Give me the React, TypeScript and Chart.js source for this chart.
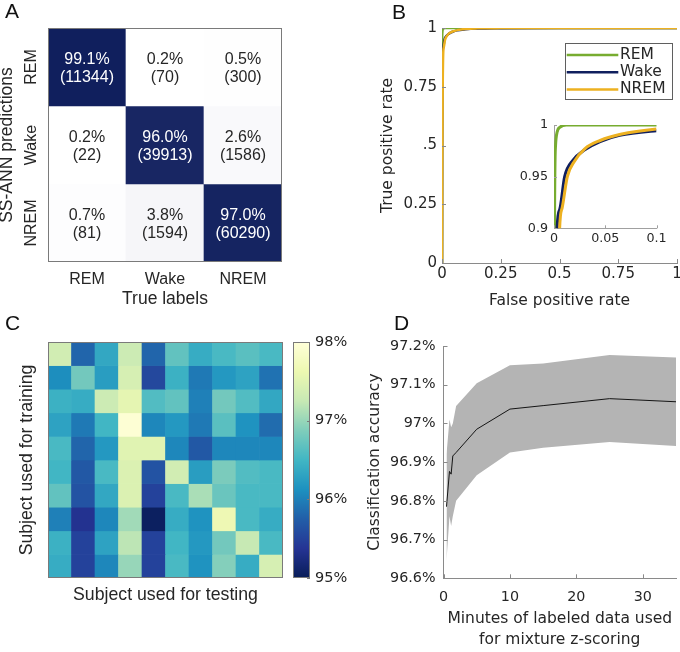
import React, { useEffect, useRef } from 'react';
import { Chart, registerables } from 'chart.js';

Chart.register(...registerables);

const SANS = "'Liberation Sans', Arial, sans-serif";
const WIDE = "'DejaVu Sans', Verdana, sans-serif";
const INK = '#262626';
const AXIS = '#8a8a8a';
const FRAME = '#7a7a7a';

// ---------- Panel A: confusion matrix ----------
const confStates = ['REM', 'Wake', 'NREM'];
const confPct = [
  [99.1, 0.2, 0.5],
  [0.2, 96.0, 2.6],
  [0.7, 3.8, 97.0],
];
const confCount = [
  [11344, 70, 300],
  [22, 39913, 1586],
  [81, 1594, 60290],
];

// ---------- Panel B: ROC ----------
const rocTicks = [0, 0.25, 0.5, 0.75, 1];
const rocXTickLabels = ['0', '0.25', '0.5', '0.75', '1'];
const rocYTickLabels = ['0', '0.25', '.5', '0.75', '1'];
const rocClasses = ['REM', 'Wake', 'NREM'];
const rocColors = ['#77ac30', '#101f5e', '#edb120'];
const remFpr = [0, 0.0002, 0.0005, 0.0015, 0.003, 0.006, 0.012, 0.05, 1];
const remTpr = [0, 0.6, 0.9, 0.98, 0.993, 0.998, 1, 1, 1];
const wakeFpr = [0, 0.0005, 0.0015, 0.003, 0.0055, 0.0104, 0.0186, 0.03, 0.045, 0.064, 0.1, 0.15, 0.25, 0.5, 1];
const wakeTpr = [0, 0.45, 0.75, 0.9, 0.918, 0.95, 0.966, 0.976, 0.984, 0.99, 0.9945, 0.9975, 0.9992, 1, 1];
const nremFpr = [0, 0.001, 0.003, 0.0055, 0.008, 0.013, 0.02, 0.03, 0.045, 0.065, 0.1, 0.15, 0.25, 0.5, 1];
const nremTpr = [0, 0.4, 0.75, 0.9, 0.92, 0.95, 0.965, 0.977, 0.985, 0.991, 0.9961, 0.9985, 0.9995, 1, 1];
const insetXTicks = [0, 0.05, 0.1];
const insetXTickLabels = ['0', '0.05', '0.1'];
const insetYTicks = [0.9, 0.95, 1];
const insetYTickLabels = ['0.9', '0.95', '1'];

// ---------- Panel C: cross-subject accuracy (%) ----------
const heatSubjects = ['1', '2', '3', '4', '5', '6', '7', '8', '9', '10'];
const heatAcc = [
  [97.35, 95.8, 96.35, 97.3, 95.8, 96.7, 96.4, 96.55, 96.65, 96.55],
  [96.1, 96.8, 96.25, 97.4, 95.55, 96.45, 95.95, 96.2, 96.3, 95.9],
  [96.45, 96.4, 97.3, 97.55, 96.6, 96.7, 96.0, 96.8, 96.6, 96.35],
  [96.3, 95.95, 96.5, 97.95, 96.05, 96.2, 95.95, 96.65, 96.15, 95.85],
  [96.55, 95.8, 96.2, 97.5, 97.5, 96.05, 95.7, 96.05, 96.05, 96.05],
  [96.5, 95.7, 96.55, 97.45, 95.65, 97.35, 96.25, 96.85, 96.6, 96.55],
  [96.7, 95.65, 96.35, 97.45, 95.5, 96.55, 97.1, 96.75, 96.55, 96.55],
  [96.0, 95.35, 96.05, 97.05, 95.05, 96.4, 96.15, 97.65, 96.55, 96.4],
  [96.45, 95.5, 96.3, 97.2, 95.5, 96.5, 96.2, 96.8, 97.25, 96.55],
  [96.4, 95.5, 96.05, 97.0, 95.5, 96.55, 96.15, 96.9, 96.4, 97.4],
];
const cbTicks = [95, 96, 97, 98];
const cbLabels = ['95%', '96%', '97%', '98%'];
const ylgnbu = ['#081d58', '#253494', '#225ea8', '#1d91c0', '#41b6c4', '#7fcdbb', '#c7e9b4', '#edf8b1', '#ffffd9'];

// ---------- Panel D: accuracy vs minutes ----------
const dMinutes = [0.45, 0.9, 1.15, 1.4, 1.9, 5, 10, 15, 25, 35];
const dMean = [96.785, 96.876, 96.869, 96.916, 96.925, 96.985, 97.037, 97.046, 97.064, 97.056];
const dUpper = [96.92, 97.01, 96.99, 97.0, 97.045, 97.104, 97.15, 97.155, 97.177, 97.17];
const dLower = [96.645, 96.76, 96.735, 96.76, 96.8, 96.866, 96.925, 96.937, 96.952, 96.942];
const dXTicks = [0, 10, 20, 30];
const dYTicks = [96.6, 96.7, 96.8, 96.9, 97, 97.1, 97.2];

// ---------- helpers ----------
function hexToRgb(h: string) {
  const n = parseInt(h.slice(1), 16);
  return [(n >> 16) & 255, (n >> 8) & 255, n & 255];
}
function heatColor(v: number) {
  const t = Math.min(1, Math.max(0, (v - cbTicks[0]) / (cbTicks[cbTicks.length - 1] - cbTicks[0])));
  const pos = t * (ylgnbu.length - 1);
  const i = Math.min(ylgnbu.length - 2, Math.floor(pos));
  const f = pos - i;
  const a = hexToRgb(ylgnbu[i]);
  const b = hexToRgb(ylgnbu[i + 1]);
  const c = a.map((x, k) => Math.round(x + (b[k] - x) * f));
  return `rgb(${c[0]},${c[1]},${c[2]})`;
}
function matrixColor(p: number) {
  const navy = [14, 29, 92];
  const f = p / 100;
  const c = navy.map((x) => Math.round(255 + (x - 255) * f));
  return `rgb(${c[0]},${c[1]},${c[2]})`;
}
const fixBox = (w?: number, h?: number) => (s: any) => {
  if (w !== undefined) s.width = w;
  if (h !== undefined) s.height = h;
  s.paddingLeft = 0;
  s.paddingRight = 0;
  s.paddingTop = 0;
  s.paddingBottom = 0;
};
const setTicks = (vals: number[]) => (s: any) => {
  s.ticks = vals.map((value) => ({ value }));
};
const base = {
  responsive: false,
  maintainAspectRatio: false,
  animation: false,
  devicePixelRatio: 1,
  events: [],
};
const noLegend = { legend: { display: false }, tooltip: { enabled: false } };
const noGrid = { display: false, drawTicks: false };

// ---------- plugins ----------
const inTicks = {
  id: 'inTicks',
  afterDatasetsDraw(chart: any, _a: any, opts: any) {
    if (!opts || !opts.axes) return;
    const { ctx, chartArea: ca } = chart;
    ctx.save();
    ctx.strokeStyle = opts.color || AXIS;
    ctx.lineWidth = 1;
    for (const id of opts.axes) {
      const s = chart.scales[id];
      if (!s) continue;
      s.ticks.forEach((_t: any, i: number) => {
        const p = Math.round(s.getPixelForTick(i)) + 0.5;
        ctx.beginPath();
        if (s.isHorizontal()) {
          const y = s.position === 'top' ? ca.top : ca.bottom;
          const d = s.position === 'top' ? 1 : -1;
          ctx.moveTo(p, y);
          ctx.lineTo(p, y + d * opts.len);
        } else {
          const x = s.position === 'right' ? ca.right : ca.left;
          const d = s.position === 'right' ? -1 : 1;
          ctx.moveTo(x, p);
          ctx.lineTo(x + d * opts.len, p);
        }
        ctx.stroke();
      });
    }
    ctx.restore();
  },
};

const frame = {
  id: 'frame',
  afterDatasetsDraw(chart: any, _a: any, opts: any) {
    if (!opts || !opts.color) return;
    const { ctx, chartArea: a } = chart;
    ctx.save();
    ctx.strokeStyle = opts.color;
    ctx.lineWidth = 1;
    ctx.strokeRect(a.left + 0.5, a.top + 0.5, a.right - a.left - 1, a.bottom - a.top - 1);
    ctx.restore();
  },
};

const matrixText = {
  id: 'matrixText',
  afterDatasetsDraw(chart: any) {
    const { ctx, scales, chartArea } = chart;
    const x = scales.x;
    const y = scales.y;
    ctx.save();
    ctx.font = `16px ${SANS}`;
    ctx.textAlign = 'center';
    ctx.textBaseline = 'middle';
    confPct.forEach((row, r) =>
      row.forEach((p, c) => {
        const cx = x.getPixelForValue(c);
        const cy = y.getPixelForValue(r + 0.5);
        ctx.fillStyle = p > 50 ? '#ffffff' : INK;
        ctx.fillText(`${p.toFixed(1)}%`, cx, cy - 7.3);
        ctx.fillText(`(${confCount[r][c]})`, cx, cy + 10.6);
      })
    );
    ctx.fillStyle = INK;
    confStates.forEach((s, r) => {
      const cy = y.getPixelForValue(r + 0.5);
      ctx.save();
      ctx.translate(chartArea.left - 16.5, cy);
      ctx.rotate(-Math.PI / 2);
      ctx.fillText(s, 0, 0);
      ctx.restore();
    });
    ctx.restore();
  },
};

const rocLegend = {
  id: 'rocLegend',
  afterDatasetsDraw(chart: any) {
    const { ctx, chartArea: a } = chart;
    const bx = a.left + 123;
    const by = a.top + 15.3;
    const bw = 106.7;
    const bh = 56;
    ctx.save();
    ctx.fillStyle = '#ffffff';
    ctx.fillRect(bx, by, bw, bh);
    ctx.strokeStyle = '#5f5f5f';
    ctx.lineWidth = 1;
    ctx.strokeRect(Math.round(bx) + 0.5, Math.round(by) + 0.5, Math.round(bw), Math.round(bh));
    ctx.font = `15.5px ${WIDE}`;
    ctx.textBaseline = 'middle';
    ctx.textAlign = 'left';
    rocClasses.forEach((name, i) => {
      const ly = by + 11.7 + i * 17.2;
      ctx.strokeStyle = rocColors[i];
      ctx.lineWidth = 2.5;
      ctx.beginPath();
      ctx.moveTo(bx + 1.7, ly);
      ctx.lineTo(bx + 53.3, ly);
      ctx.stroke();
      ctx.fillStyle = INK;
      ctx.fillText(name, bx + 55, ly);
    });
    ctx.restore();
  },
};

// ---------- configs ----------
function matrixConfig() {
  return {
    type: 'bar',
    data: {
      labels: confStates,
      datasets: confStates.map((_s, r) => ({
        data: confStates.map(() => [r, r + 1]),
        backgroundColor: confPct[r].map(matrixColor),
        borderWidth: 0,
        grouped: false,
        categoryPercentage: 1,
        barPercentage: 1,
      })),
    },
    options: {
      ...base,
      layout: { padding: { left: 0, top: 8, right: 18, bottom: 0 } },
      scales: {
        x: {
          type: 'category',
          grid: noGrid,
          border: { display: false },
          ticks: { font: { family: SANS, size: 16 }, color: INK, padding: 7.6, maxRotation: 0, autoSkip: false },
          title: { display: true, text: 'True labels', color: INK, font: { family: SANS, size: 17.5 }, padding: { top: 0, bottom: 0.5 } },
          afterFit: fixBox(undefined, 48),
        },
        y: {
          type: 'linear',
          min: 0,
          max: confStates.length,
          reverse: true,
          grid: noGrid,
          border: { display: false },
          ticks: { display: false },
          title: { display: true, text: 'SS-ANN predictions', color: INK, font: { family: SANS, size: 17.5, lineHeight: 0.85 }, padding: { top: 0, bottom: 0 } },
          afterFit: fixBox(48),
        },
      },
      plugins: { ...noLegend, frame: { color: FRAME } },
    },
    plugins: [frame, matrixText],
  };
}

function rocDatasets(width: number) {
  const series = [
    { fpr: remFpr, tpr: remTpr },
    { fpr: wakeFpr, tpr: wakeTpr },
    { fpr: nremFpr, tpr: nremTpr },
  ];
  return series.map((s, i) => ({
    label: rocClasses[i],
    data: s.fpr.map((x, j) => ({ x, y: s.tpr[j] })),
    borderColor: rocColors[i],
    backgroundColor: rocColors[i],
    borderWidth: width,
    pointRadius: 0,
    cubicInterpolationMode: 'monotone',
    fill: false,
    order: series.length - i,
  }));
}

function rocConfig() {
  return {
    type: 'line',
    data: { datasets: rocDatasets(2.5) },
    options: {
      ...base,
      layout: { padding: { left: 0, top: 28, right: 3, bottom: 0 } },
      scales: {
        x: {
          type: 'linear',
          min: 0,
          max: 1,
          afterBuildTicks: setTicks(rocTicks),
          ticks: { callback: (_v: any, i: number) => rocXTickLabels[i], font: { family: WIDE, size: 15 }, color: INK, padding: 2, autoSkip: false, maxRotation: 0 },
          grid: noGrid,
          border: { display: true, color: AXIS, width: 1 },
          title: { display: true, text: 'False positive rate', color: INK, font: { family: WIDE, size: 15.5 }, padding: { top: 0, bottom: 10 } },
          afterFit: fixBox(undefined, 57),
        },
        y: {
          type: 'linear',
          min: 0,
          max: 1,
          afterBuildTicks: setTicks(rocTicks),
          ticks: { callback: (_v: any, i: number) => rocYTickLabels[i], font: { family: WIDE, size: 15 }, color: INK, padding: 5, autoSkip: false },
          grid: noGrid,
          border: { display: true, color: AXIS, width: 1 },
          title: { display: true, text: 'True positive rate', color: INK, font: { family: WIDE, size: 15.5 }, padding: { top: 38.7, bottom: 0 } },
          afterFit: fixBox(102),
        },
      },
      plugins: { ...noLegend, inTicks: { axes: ['x', 'y'], len: 4, color: AXIS } },
    },
    plugins: [inTicks, rocLegend],
  };
}

function insetConfig() {
  return {
    type: 'line',
    data: { datasets: rocDatasets(3) },
    options: {
      ...base,
      layout: { padding: { left: 0, top: 13, right: 13.5, bottom: 0 } },
      scales: {
        x: {
          type: 'linear',
          min: insetXTicks[0],
          max: insetXTicks[insetXTicks.length - 1],
          afterBuildTicks: setTicks(insetXTicks),
          ticks: { callback: (_v: any, i: number) => insetXTickLabels[i], font: { family: WIDE, size: 12.7 }, color: INK, padding: 3, autoSkip: false, maxRotation: 0 },
          grid: noGrid,
          border: { display: true, color: '#a0a0a0', width: 1 },
          afterFit: fixBox(undefined, 21.7),
        },
        y: {
          type: 'linear',
          min: insetYTicks[0],
          max: insetYTicks[insetYTicks.length - 1],
          afterBuildTicks: setTicks(insetYTicks),
          ticks: { callback: (_v: any, i: number) => insetYTickLabels[i], font: { family: WIDE, size: 12.7 }, color: INK, padding: 6, autoSkip: false },
          grid: noGrid,
          border: { display: true, color: '#a0a0a0', width: 1 },
          afterFit: fixBox(49),
        },
      },
      plugins: { ...noLegend, inTicks: { axes: ['x', 'y'], len: 3, color: '#a0a0a0' } },
    },
    plugins: [inTicks],
  };
}

function heatConfig() {
  return {
    type: 'bar',
    data: {
      labels: heatSubjects,
      datasets: heatAcc.map((row, r) => ({
        data: row.map(() => [r, r + 1]),
        backgroundColor: row.map(heatColor),
        borderWidth: 0,
        grouped: false,
        categoryPercentage: 1,
        barPercentage: 1,
      })),
    },
    options: {
      ...base,
      layout: { padding: { left: 0, top: 22, right: 7, bottom: 0 } },
      scales: {
        x: {
          type: 'category',
          grid: noGrid,
          border: { display: false },
          ticks: { display: false },
          title: { display: true, text: 'Subject used for testing', color: INK, font: { family: SANS, size: 17.7 }, padding: { top: 0, bottom: 13.9 } },
          afterFit: fixBox(undefined, 42),
        },
        y: {
          type: 'linear',
          min: 0,
          max: heatSubjects.length,
          reverse: true,
          grid: noGrid,
          border: { display: false },
          ticks: { display: false },
          title: { display: true, text: 'Subject used for training', color: INK, font: { family: SANS, size: 17.7 }, padding: { top: 16.4, bottom: 0 } },
          afterFit: fixBox(48),
        },
      },
      plugins: { ...noLegend, frame: { color: FRAME } },
    },
    plugins: [frame],
  };
}

function colorbarConfig() {
  const lo = cbTicks[0];
  const hi = cbTicks[cbTicks.length - 1];
  return {
    type: 'bar',
    data: {
      labels: [''],
      datasets: [
        {
          data: [[lo, hi]],
          backgroundColor: (c: any) => {
            const chart = c.chart;
            if (!chart.chartArea) return 'transparent';
            const ys = chart.scales.y;
            const g = chart.ctx.createLinearGradient(0, ys.getPixelForValue(lo), 0, ys.getPixelForValue(hi));
            ylgnbu.forEach((col, i) => g.addColorStop(i / (ylgnbu.length - 1), col));
            return g;
          },
          borderWidth: 0,
          categoryPercentage: 1,
          barPercentage: 1,
        },
      ],
    },
    options: {
      ...base,
      layout: { padding: { left: 8, top: 12, right: 0, bottom: 12 } },
      scales: {
        x: { display: false },
        y: {
          type: 'linear',
          position: 'right',
          min: lo,
          max: hi,
          afterBuildTicks: setTicks(cbTicks),
          ticks: { callback: (_v: any, i: number) => cbLabels[i], font: { family: WIDE, size: 14.5 }, color: INK, padding: 5, autoSkip: false },
          grid: noGrid,
          border: { display: false },
          afterFit: fixBox(40),
        },
      },
      plugins: { ...noLegend, frame: { color: FRAME }, inTicks: { axes: ['y'], len: 3, color: FRAME } },
    },
    plugins: [frame, inTicks],
  };
}

function accuracyConfig() {
  const pts = (ys: number[]) => dMinutes.map((x, i) => ({ x, y: ys[i] }));
  return {
    type: 'line',
    data: {
      datasets: [
        { label: 'upper', data: pts(dUpper), borderColor: 'transparent', borderWidth: 0, pointRadius: 0, fill: '+1', backgroundColor: '#b4b4b4', order: 2 },
        { label: 'lower', data: pts(dLower), borderColor: 'transparent', borderWidth: 0, pointRadius: 0, fill: false, order: 3 },
        { label: 'mean', data: pts(dMean), borderColor: '#151515', borderWidth: 1, pointRadius: 0, fill: false, order: 1 },
      ],
    },
    options: {
      ...base,
      layout: { padding: { left: 0, top: 26, right: 4, bottom: 0 } },
      scales: {
        x: {
          type: 'linear',
          min: 0,
          max: 35,
          afterBuildTicks: setTicks(dXTicks),
          ticks: { callback: (_v: any, i: number) => String(dXTicks[i]), font: { family: WIDE, size: 14.3 }, color: INK, padding: 10, autoSkip: false, maxRotation: 0 },
          grid: noGrid,
          border: { display: true, color: AXIS, width: 1 },
          title: {
            display: true,
            text: ['Minutes of labeled data used', 'for mixture z-scoring'],
            color: INK,
            font: { family: WIDE, size: 15.5, lineHeight: 1.34 },
            padding: { top: 0, bottom: 1.6 },
          },
          afterFit: fixBox(undefined, 73.7),
        },
        y: {
          type: 'linear',
          min: dYTicks[0],
          max: dYTicks[dYTicks.length - 1],
          afterBuildTicks: setTicks(dYTicks),
          ticks: { callback: (_v: any, i: number) => `${dYTicks[i]}%`, font: { family: WIDE, size: 14.3 }, color: INK, padding: 8, autoSkip: false },
          grid: noGrid,
          border: { display: true, color: AXIS, width: 1 },
          title: { display: true, text: 'Classification accuracy', color: INK, font: { family: WIDE, size: 15.5 }, padding: { top: 25.7, bottom: 0 } },
          afterFit: fixBox(103.5),
        },
      },
      plugins: { ...noLegend, inTicks: { axes: ['x', 'y'], len: 4, color: AXIS } },
    },
    plugins: [inTicks],
  };
}

// ---------- components ----------
function ChartCanvas({ left, top, width, height, make }: any) {
  const ref = useRef<HTMLCanvasElement | null>(null);
  useEffect(() => {
    const chart = new Chart(ref.current as any, make());
    return () => chart.destroy();
  }, []);
  return (
    <canvas
      ref={ref}
      width={width}
      height={height}
      style={{ position: 'absolute', left, top, width, height, display: 'block' }}
    />
  );
}

function PanelLabel({ text, left, top }: any) {
  return (
    <div
      style={{
        position: 'absolute',
        left,
        top,
        fontFamily: SANS,
        fontSize: 21,
        lineHeight: '21px',
        color: '#111',
      }}
    >
      {text}
    </div>
  );
}

export default function App() {
  return (
    <div
      style={{
        position: 'absolute',
        left: 0,
        top: 0,
        width: 680,
        height: 652,
        overflow: 'hidden',
        background: '#ffffff',
      }}
    >
      <ChartCanvas left={0} top={20} width={300} height={290} make={matrixConfig} />
      <ChartCanvas left={340} top={0} width={340} height={320} make={rocConfig} />
      <ChartCanvas left={505} top={112} width={165} height={138} make={insetConfig} />
      <ChartCanvas left={0} top={320} width={290} height={300} make={heatConfig} />
      <ChartCanvas left={285} top={330} width={65} height={260} make={colorbarConfig} />
      <ChartCanvas left={340} top={320} width={340} height={332} make={accuracyConfig} />
      <PanelLabel text="A" left={5} top={0} />
      <PanelLabel text="B" left={392} top={1} />
      <PanelLabel text="C" left={5} top={312} />
      <PanelLabel text="D" left={394} top={312} />
    </div>
  );
}
